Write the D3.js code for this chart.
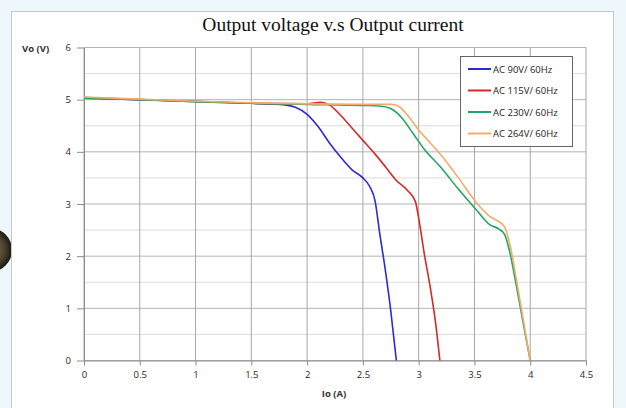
<!DOCTYPE html>
<html><head><meta charset="utf-8">
<script src="https://cdn.jsdelivr.net/npm/d3@7"></script>
<style>
html,body{margin:0;padding:0;background:#eef7fb;}
svg{display:block;}
</style></head>
<body>
<svg id="chart" width="626" height="408"></svg>
<script>
const seriesNames = ["AC 90V/ 60Hz","AC 115V/ 60Hz","AC 230V/ 60Hz","AC 264V/ 60Hz"];
const seriesColors = ["#2b2bd6","#d42a2a","#22a565","#f2ac6a"];
const ac90 = [[0,5.04],[0.25,5.02],[0.5,5.0],[1,4.97],[1.5,4.93],[1.8,4.9],[1.9,4.85],[2.0,4.72],[2.1,4.48],[2.2,4.17],[2.3,3.9],[2.4,3.66],[2.5,3.5],[2.56,3.34],[2.61,3.05],[2.65,2.45],[2.7,1.75],[2.75,0.95],[2.8,0]];
const ac115 = [[0,5.03],[0.5,5.0],[1,4.96],[1.5,4.93],[2.0,4.92],[2.12,4.95],[2.2,4.9],[2.3,4.7],[2.4,4.46],[2.5,4.22],[2.6,3.98],[2.7,3.72],[2.8,3.45],[2.9,3.26],[2.97,3.05],[3.01,2.6],[3.05,2.05],[3.1,1.45],[3.15,0.75],[3.19,0]];
const ac230 = [[0,5.03],[0.5,5.0],[1,4.96],[1.5,4.93],[2,4.91],[2.5,4.89],[2.65,4.88],[2.75,4.83],[2.85,4.65],[2.95,4.35],[3.05,4.05],[3.2,3.7],[3.35,3.3],[3.52,2.88],[3.64,2.6],[3.72,2.52],[3.77,2.42],[3.82,2.05],[3.87,1.5],[3.93,0.8],[4.0,0]];
const ac264 = [[0,5.05],[0.5,5.01],[1,4.97],[1.5,4.94],[2,4.92],[2.5,4.91],[2.76,4.91],[2.83,4.86],[2.9,4.7],[3.0,4.42],[3.1,4.18],[3.2,3.94],[3.35,3.52],[3.52,3.02],[3.64,2.76],[3.72,2.66],[3.77,2.56],[3.82,2.2],[3.88,1.5],[3.94,0.75],[4.0,0]];
const allSeries = [ac90, ac115, ac230, ac264];
const xTicks = [0,0.5,1,1.5,2,2.5,3,3.5,4,4.5];
const yTicks = [0,1,2,3,4,5,6];
const yMinor = [0.5,1.5,2.5,3.5,4.5,5.5];

const svg = d3.select("#chart");
const grad = svg.append("defs").append("radialGradient").attr("id","knob");
grad.append("stop").attr("offset","0%").attr("stop-color","#8a7a5a");
grad.append("stop").attr("offset","70%").attr("stop-color","#4a3f2c");
grad.append("stop").attr("offset","100%").attr("stop-color","#1a1610");
svg.append("circle").attr("cx",-10).attr("cy",250).attr("r",22).attr("fill","url(#knob)");

svg.append("rect").attr("x",11.5).attr("y",11.5).attr("width",602).attr("height",420)
  .attr("fill","#fff").attr("stroke","#c8c8c8");

const x = d3.scaleLinear().domain([0,4.5]).range([84,586]);
const y = d3.scaleLinear().domain([0,6]).range([360.5,47.5]);

svg.append("g").selectAll("line").data(yMinor).join("line")
  .attr("x1",x(0)).attr("x2",x(4.5)).attr("y1",d=>y(d)).attr("y2",d=>y(d))
  .attr("stroke","#dcdcdc").attr("stroke-width",1);
svg.append("g").selectAll("line").data(yTicks).join("line")
  .attr("x1",x(0)).attr("x2",x(4.5)).attr("y1",d=>y(d)).attr("y2",d=>y(d))
  .attr("stroke","#b4b4b4").attr("stroke-width",1);
svg.append("g").selectAll("line").data(xTicks).join("line")
  .attr("x1",d=>x(d)).attr("x2",d=>x(d)).attr("y1",y(0)).attr("y2",y(6))
  .attr("stroke","#a8a8a8").attr("stroke-width",1);

const xAxis = svg.append("g").attr("transform",`translate(0,${y(0)})`)
  .call(d3.axisBottom(x).tickValues(xTicks).tickFormat(d=>String(d)).tickSize(5).tickSizeOuter(0));
const yAxis = svg.append("g").attr("transform",`translate(${x(0)},0)`)
  .call(d3.axisLeft(y).tickValues(yTicks).tickFormat(d=>String(d)).tickSize(7).tickSizeOuter(0));
[xAxis,yAxis].forEach(a=>{
  a.select(".domain").attr("stroke","#8c8c8c");
  a.selectAll(".tick line").attr("stroke","#8c8c8c");
  a.selectAll("text").attr("font-family","Open Sans, sans-serif").attr("font-size",9.5).attr("fill","#2a2a2a");
});
xAxis.selectAll("text").attr("dy","0.71em").attr("y",11);
yAxis.selectAll("text").attr("x",-13);

const line = d3.line().x(d=>x(d[0])).y(d=>y(d[1])).curve(d3.curveMonotoneX);
svg.append("g").selectAll("path").data(allSeries).join("path")
  .attr("d",line).attr("fill","none")
  .attr("stroke",(d,i)=>seriesColors[i]).attr("stroke-width",1.6);

svg.append("text").attr("x",333).attr("y",31).attr("text-anchor","middle")
  .attr("font-family","Liberation Serif, Times New Roman, serif").attr("font-size",19.5).attr("fill","#111")
  .text("Output voltage v.s Output current");
svg.append("text").attr("x",22).attr("y",52)
  .attr("font-family","Open Sans, sans-serif").attr("font-size",9.5).attr("font-weight","bold").attr("fill","#333")
  .text("Vo (V)");
svg.append("text").attr("x",334).attr("y",397).attr("text-anchor","middle")
  .attr("font-family","Open Sans, sans-serif").attr("font-size",9.5).attr("font-weight","bold").attr("fill","#333")
  .text("Io (A)");

const lg = svg.append("g");
lg.append("rect").attr("x",460.5).attr("y",56.5).attr("width",112).attr("height",90)
  .attr("fill","#fff").attr("stroke","#666");
const items = lg.selectAll("g").data(seriesNames).join("g")
  .attr("transform",(d,i)=>`translate(468,${69+i*21.5})`);
items.append("line").attr("x1",0).attr("x2",23).attr("stroke",(d,i)=>seriesColors[i]).attr("stroke-width",2);
items.append("text").attr("x",25).attr("y",3.5)
  .attr("font-family","Open Sans, sans-serif").attr("font-size",9.5).attr("fill","#222").text(d=>d);
</script>
</body></html>
